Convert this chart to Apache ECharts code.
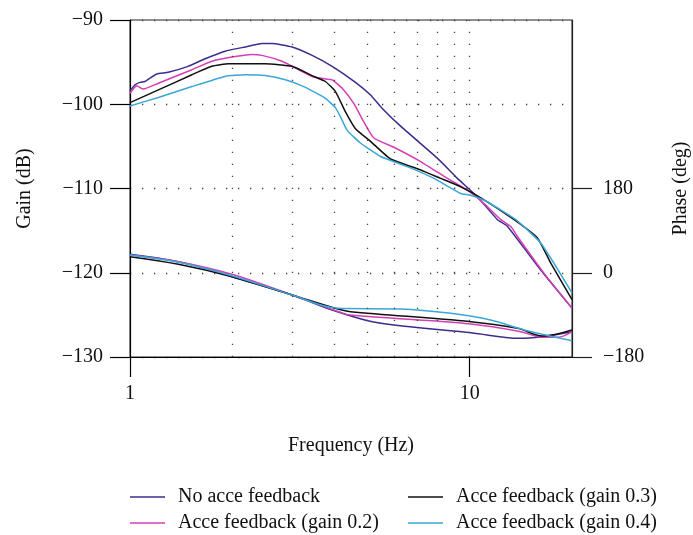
<!DOCTYPE html>
<html>
<head>
<meta charset="utf-8">
<script src="https://cdn.jsdelivr.net/npm/echarts@6/dist/echarts.min.js"></script>
<style>html,body{margin:0;padding:0;background:#fff;overflow:hidden;}#chart{width:693px;height:535px;}</style>
</head>
<body>
<div id="chart"></div>
<script>
// ---- Data ----
const seriesNames = ['No acce feedback', 'Acce feedback (gain 0.2)', 'Acce feedback (gain 0.3)', 'Acce feedback (gain 0.4)'];

const noFbGainFreq = [1.0, 1.035, 1.07, 1.107, 1.146, 1.199, 1.295, 1.483, 1.664, 1.906, 2.184, 2.446, 2.618, 3.0, 3.436, 3.936, 4.61, 5.105, 5.527, 6.258, 8.03, 9.199, 10.54, 12.07, 12.92, 16.2, 20];
const noFbGain = [-98.4, -97.7, -97.4, -97.3, -96.9, -96.4, -96.2, -95.5, -94.6, -93.7, -93.2, -92.8, -92.8, -93.2, -94.2, -95.5, -97.4, -98.9, -100.5, -102.6, -106.4, -108.8, -111.0, -113.7, -114.5, -119.7, -124.2];

const g02GainFreq = [1.0, 1.047, 1.094, 1.212, 1.521, 1.742, 1.995, 2.286, 2.446, 2.803, 3.137, 3.436, 3.76, 3.936, 4.213, 4.557, 4.878, 5.221, 5.98, 7.169, 8.596, 9.845, 11.02, 12.34, 13.21, 13.82, 16.57, 20];
const g02Gain = [-98.7, -97.8, -98.2, -97.5, -95.9, -94.9, -94.4, -94.1, -94.2, -94.9, -95.9, -96.7, -97.0, -97.1, -98.1, -99.9, -102.1, -104.0, -105.1, -106.8, -108.8, -110.2, -111.8, -113.7, -114.5, -115.7, -120.1, -124.2];

const g03GainFreq = [1.0, 1.212, 1.521, 1.742, 1.95, 2.502, 3.0, 3.436, 3.76, 4.025, 4.308, 4.61, 5.105, 5.848, 7.169, 8.213, 9.408, 10.78, 13.51, 15.84, 17.34, 20];
const g03Gain = [-99.8, -98.3, -96.5, -95.5, -95.2, -95.2, -95.5, -96.6, -97.3, -98.5, -100.9, -102.9, -104.4, -106.5, -107.8, -108.8, -109.8, -111.1, -113.7, -115.9, -118.9, -123.2];

const g04GainFreq = [1.0, 1.212, 1.521, 1.906, 2.184, 2.502, 2.866, 3.284, 3.76, 4.025, 4.165, 4.358, 4.77, 5.464, 6.549, 7.847, 9.408, 10.07, 11.28, 13.67, 16.2, 20];
const g04Gain = [-100.2, -99.2, -97.9, -96.7, -96.5, -96.6, -97.1, -98.0, -99.3, -100.4, -101.5, -103.1, -104.6, -106.2, -107.4, -108.8, -110.6, -110.8, -111.6, -113.7, -116.5, -122.4];

const noFbPhaseFreq = [1.0, 1.388, 1.802, 1.995, 3.0, 3.936, 5.047, 5.98, 10.07, 13.96, 20];
const noFbPhase = [39.4, 23.6, 2.2, -8.4, -47.5, -79.6, -103.1, -111.6, -128.1, -140, -125.9];

const g02PhaseFreq = [1.0, 1.388, 1.995, 3.0, 4.117, 4.455, 10.07, 14.14, 16.39, 18.14, 20];
const g02Phase = [37.9, 23.6, -3.3, -47.5, -83.2, -90.3, -109.5, -125.9, -137.9, -137.9, -125.9];

const g03PhaseFreq = [1.0, 1.388, 1.995, 3.0, 4.117, 4.455, 10.07, 13.82, 16.39, 20];
const g03Phase = [34.3, 18.1, -8.4, -47.5, -78.1, -83.2, -104.6, -118.7, -135.1, -122.3];

const g04PhaseFreq = [1.0, 1.388, 1.995, 3.0, 4.117, 6.258, 8.79, 11.52, 14.47, 20];
const g04Phase = [37.9, 22.3, -6.3, -47.5, -76, -77.4, -86.6, -101, -122.3, -145.2];

const freqTicks = [1, 10];
const gridFreqs = [2, 3, 4, 5, 6, 7, 8, 9, 10];
const gainTicks = [-130, -120, -110, -100, -90];
const phaseTicks = [-180, 0, 180];

// ---- Styling ----
const colors = ['#3b2d8e', '#d43fb3', '#111111', '#3aa7d8'];
const FONT = 'Liberation Serif';
const FS = 20;
const zip = (xs, ys) => xs.map((x, i) => [x, ys[i]]);
const minus = v => String(v).replace('-', '\u2212');
const dotted = { color: '#444', width: 1.3, type: [1.3, 10.7] };

const gainSets = [[noFbGainFreq, noFbGain], [g02GainFreq, g02Gain], [g03GainFreq, g03Gain], [g04GainFreq, g04Gain]];
const phaseSets = [[noFbPhaseFreq, noFbPhase], [g02PhaseFreq, g02Phase], [g03PhaseFreq, g03Phase], [g04PhaseFreq, g04Phase]];

const series = [];
gainSets.forEach((s, i) => {
  const o = {
    name: seriesNames[i], type: 'line', xAxisIndex: 0, yAxisIndex: 0,
    data: zip(s[0], s[1]), showSymbol: false, symbol: 'none', smooth: 0.15,
    lineStyle: { color: colors[i], width: 1.5 }, itemStyle: { color: colors[i] }, z: 3
  };
  if (i === 0) {
    o.markLine = {
      silent: true, symbol: 'none', label: { show: false },
      lineStyle: dotted, emphasis: { disabled: true },
      data: gridFreqs.map(f => ({ xAxis: f }))
    };
  }
  series.push(o);
});
phaseSets.forEach((s, i) => {
  series.push({
    name: seriesNames[i], type: 'line', xAxisIndex: 0, yAxisIndex: 1,
    data: zip(s[0], s[1]), showSymbol: false, symbol: 'none', smooth: 0.35,
    lineStyle: { color: colors[i], width: 1.5 }, itemStyle: { color: colors[i] }, z: 3
  });
});

const legendPos = [[130, 487], [130, 513], [408, 487], [408, 513]];
const legends = seriesNames.map((n, i) => ({
  left: legendPos[i][0], top: legendPos[i][1], orient: 'horizontal', padding: 0,
  itemWidth: 35, itemHeight: 1.6, icon: 'rect',
  data: [n], selectedMode: true,
  textStyle: { fontFamily: FONT, fontSize: FS, color: '#111', padding: [0, 0, 0, 8] }
}));

const chart = echarts.init(document.getElementById('chart'), null, { renderer: 'canvas' });
chart.setOption({
  animation: false,
  backgroundColor: '#fff',
  textStyle: { fontFamily: FONT },
  grid: { left: 130, right: 121, top: 20, bottom: 178, outerBoundsMode: 'none', containLabel: false,
          show: true, borderColor: '#222', borderWidth: 1, backgroundColor: 'transparent' },
  xAxis: {
    type: 'log', logBase: 10, min: 1, max: 20,
    name: 'Frequency (Hz)', nameLocation: 'middle', nameGap: 79,
    nameTextStyle: { fontFamily: FONT, fontSize: FS, color: '#111' },
    axisLine: { show: true, onZero: false, lineStyle: { color: '#000', width: 1.2 } },
    axisTick: { show: true, inside: false, length: 20, customValues: freqTicks, lineStyle: { color: '#000', width: 1.2 } },
    axisLabel: { customValues: freqTicks, margin: 27, fontFamily: FONT, fontSize: FS, color: '#111' },
    splitLine: { show: false }, minorTick: { show: false }
  },
  yAxis: [{
    type: 'value', min: -130, max: -90, interval: 10, position: 'left',
    name: 'Gain (dB)', nameLocation: 'middle', nameGap: 95, nameRotate: 90,
    nameTextStyle: { fontFamily: FONT, fontSize: FS, color: '#111' },
    axisLine: { show: true, onZero: false, lineStyle: { color: '#000', width: 1.2 } },
    axisTick: { show: true, inside: false, length: 20, customValues: gainTicks, lineStyle: { color: '#000', width: 1.2 } },
    axisLabel: { customValues: gainTicks, margin: 27, fontFamily: FONT, fontSize: FS, color: '#111', formatter: minus },
    splitLine: { show: true, lineStyle: dotted }
  }, {
    type: 'value', min: -180, max: 540, interval: 180, position: 'right',
    name: 'Phase (deg)', nameLocation: 'middle', nameGap: 99, nameRotate: 90,
    nameTextStyle: { fontFamily: FONT, fontSize: FS, color: '#111' },
    axisLine: { show: true, onZero: false, lineStyle: { color: '#222', width: 1.2 } },
    axisTick: { show: true, inside: false, length: 20, customValues: phaseTicks, lineStyle: { color: '#222', width: 1.2 } },
    axisLabel: { customValues: phaseTicks, margin: 31, fontFamily: FONT, fontSize: FS, color: '#111', formatter: minus },
    splitLine: { show: false }
  }],
  legend: legends,
  series: series
});
</script>
</body>
</html>
